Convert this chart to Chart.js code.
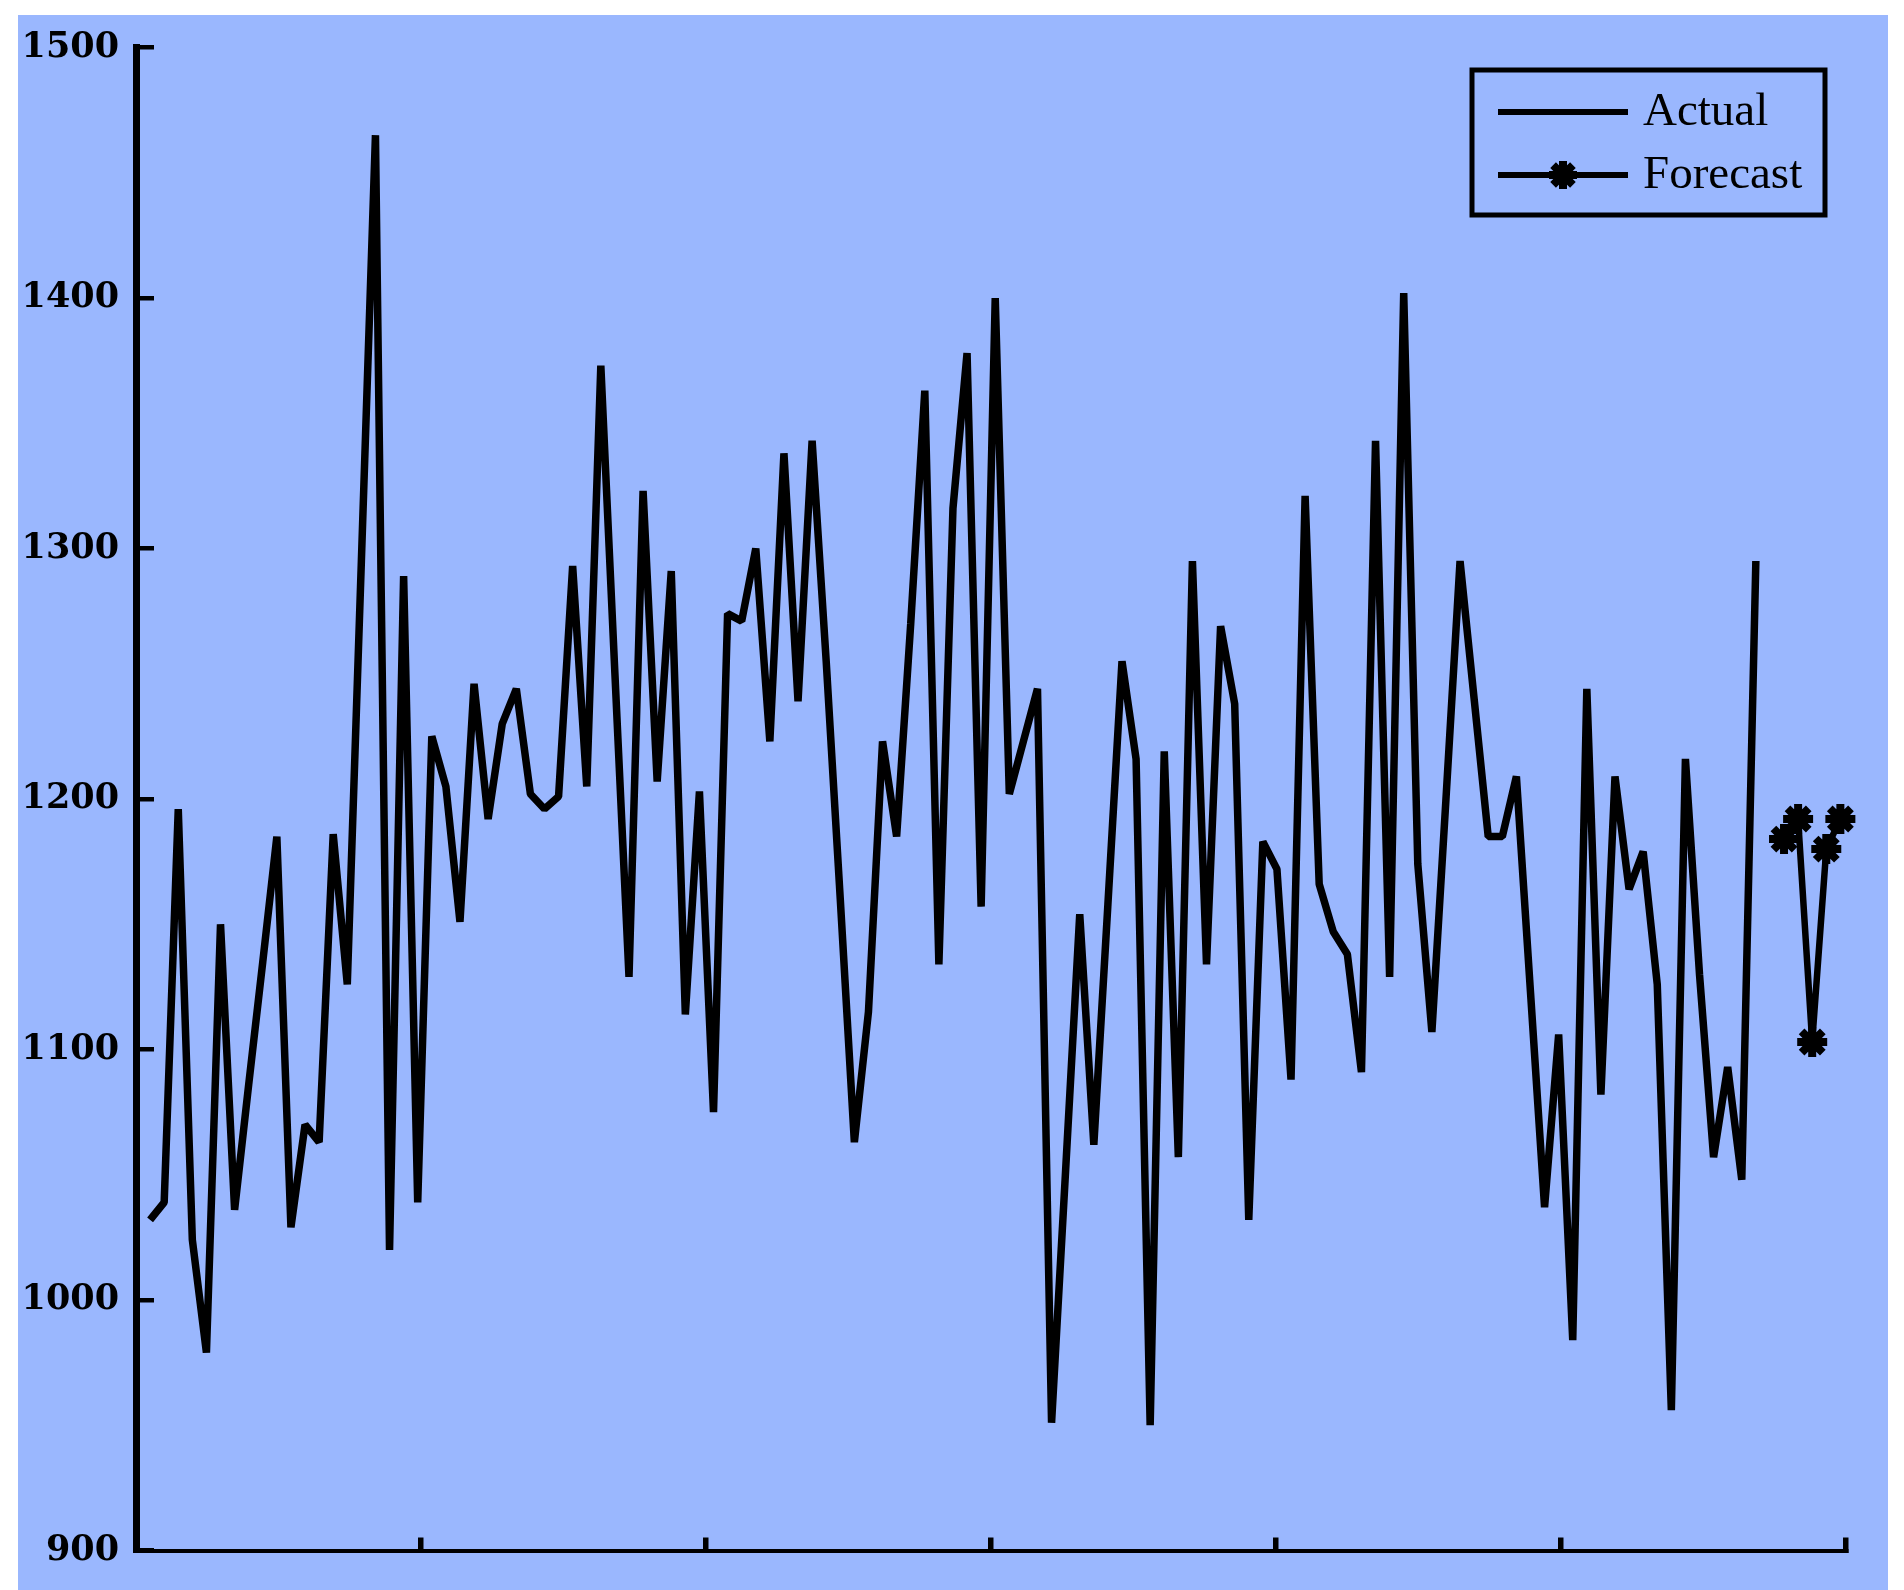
<!DOCTYPE html>
<html>
<head>
<meta charset="utf-8">
<script src="https://cdn.jsdelivr.net/npm/chart.js@4.4.1/dist/chart.umd.min.js"></script>
<style>
  html, body { margin: 0; padding: 0; background: #ffffff; }
  #wrap { position: relative; width: 1904px; height: 1590px; overflow: hidden; }
  #bg { position: absolute; left: 18px; top: 15px; width: 1870px; height: 1575px; background: rgb(154,183,254); }
  #c { position: absolute; left: 0; top: 0; }
</style>
</head>
<body>
<div id="wrap">
  <div id="bg"></div>
  <canvas id="c" width="1904" height="1590"></canvas>
</div>
<script>
// ---- data ----
const actualValues = [
  1032, 1039, 1196, 1024, 979, 1150, 1036, 1086, 1135, 1185,
  1029, 1070, 1063, 1186, 1126, 1295, 1465, 1020, 1289, 1039,
  1225, 1205, 1151, 1246, 1192, 1230, 1244, 1202, 1196, 1201,
  1293, 1205, 1373, 1250, 1129, 1323, 1207, 1291, 1114, 1203,
  1075, 1274, 1271, 1300, 1223, 1338, 1239, 1343, 1255, 1160,
  1063, 1115, 1223, 1185, 1270, 1363, 1134, 1316, 1378, 1157,
  1400, 1202, 1223, 1244, 951, 1052, 1154, 1062, 1158, 1255,
  1216, 950, 1219, 1057, 1295, 1134, 1269, 1238, 1032, 1183,
  1172, 1088, 1321, 1166, 1147, 1138, 1091, 1343, 1129, 1402,
  1174, 1107, 1200, 1295, 1240, 1185, 1185, 1209, 1123, 1037,
  1106, 984, 1244, 1082, 1209, 1164, 1179, 1126, 956, 1216,
  1130, 1057, 1093, 1048, 1295
];
const actualX = actualValues.map((_, i) => i + 1);
const forecastX = [117, 118, 119, 120, 121];
const forecastValues = [1184, 1192, 1103, 1180, 1192];
const xTickValues = [0, 20.23, 40.47, 60.7, 80.93, 101.17, 121.4];
const yTickValues = [900, 1000, 1100, 1200, 1300, 1400, 1500];
const seriesNames = ['Actual', 'Forecast'];

// ---- legend drawn inside plot ----
const boxLegend = {
  id: 'boxLegend',
  afterDraw(chart) {
    const ctx = chart.ctx, a = chart.chartArea;
    const w = 353, h = 145;
    const x0 = a.right - 374, y0 = a.top + 22.5;
    ctx.save();
    ctx.lineWidth = 5;
    ctx.strokeStyle = '#000';
    ctx.strokeRect(x0, y0, w, h);
    chart.data.datasets.forEach((ds, i) => {
      const cy = y0 + 42 + i * 63;
      ctx.beginPath();
      ctx.lineWidth = 6;
      ctx.strokeStyle = ds.borderColor;
      ctx.moveTo(x0 + 26, cy);
      ctx.lineTo(x0 + 156, cy);
      ctx.stroke();
      if (ds.pointRadius > 0) {
        ctx.lineWidth = ds.pointBorderWidth;
        ctx.strokeStyle = ds.borderColor;
        ctx.fillStyle = ds.pointBackgroundColor;
        Chart.helpers.drawPoint(ctx, { pointStyle: ds.pointStyle, radius: ds.pointRadius - 1, borderWidth: ds.pointBorderWidth, rotation: 0 }, x0 + 91, cy);
      }
      ctx.fillStyle = '#000';
      ctx.font = '47px "Liberation Serif", "Times New Roman", serif';
      ctx.textBaseline = 'middle';
      ctx.textAlign = 'left';
      ctx.fillText(ds.label, x0 + 171, cy + 1);
    });
    ctx.restore();
  }
};

new Chart(document.getElementById('c'), {
  type: 'line',
  data: {
    datasets: [
      {
        label: seriesNames[0],
        data: actualX.map((x, i) => ({ x: x, y: actualValues[i] })),
        borderColor: '#000',
        borderWidth: 7.5,
        borderJoinStyle: 'bevel',
        pointRadius: 0,
        tension: 0,
        clip: false
      },
      {
        label: seriesNames[1],
        data: forecastX.map((x, i) => ({ x: x, y: forecastValues[i] })),
        borderColor: '#000',
        backgroundColor: '#000',
        borderWidth: 6.5,
        borderJoinStyle: 'bevel',
        pointStyle: 'star',
        pointRadius: 15,
        pointBorderWidth: 8,
        pointBackgroundColor: '#000',
        pointBorderColor: '#000',
        tension: 0,
        clip: false
      }
    ]
  },
  options: {
    responsive: false,
    animation: false,
    events: [],
    layout: { padding: { left: 0, right: 58, top: 47.5, bottom: 0 } },
    plugins: { legend: { display: false }, tooltip: { enabled: false } },
    scales: {
      x: {
        type: 'linear',
        position: 'bottom',
        min: 0,
        max: 121.4,
        afterBuildTicks(scale) { scale.ticks = xTickValues.map(v => ({ value: v })); },
        afterFit(scale) { scale.height = 39.5; scale.paddingLeft = 0; scale.paddingRight = 0; },
        border: { display: true, color: '#000', width: 4 },
        grid: { drawOnChartArea: false, drawTicks: true, tickLength: -13, color: '#000', lineWidth: 5.5 },
        ticks: { display: false }
      },
      y: {
        type: 'linear',
        position: 'left',
        min: 900,
        max: 1500,
        afterBuildTicks(scale) { scale.ticks = yTickValues.map(v => ({ value: v })); },
        afterFit(scale) { scale.width = 136; scale.paddingTop = 10; scale.paddingBottom = 10; },
        border: { display: true, color: '#000', width: 7 },
        grid: { drawOnChartArea: false, drawTicks: true, tickLength: -18, color: '#000', lineWidth: 4.5 },
        ticks: {
          color: '#000',
          padding: 35,
          font: { family: '"DejaVu Serif", serif', size: 35, weight: 'bold' },
          callback: (v) => String(v)
        }
      }
    }
  },
  plugins: [boxLegend]
});
</script>
</body>
</html>
